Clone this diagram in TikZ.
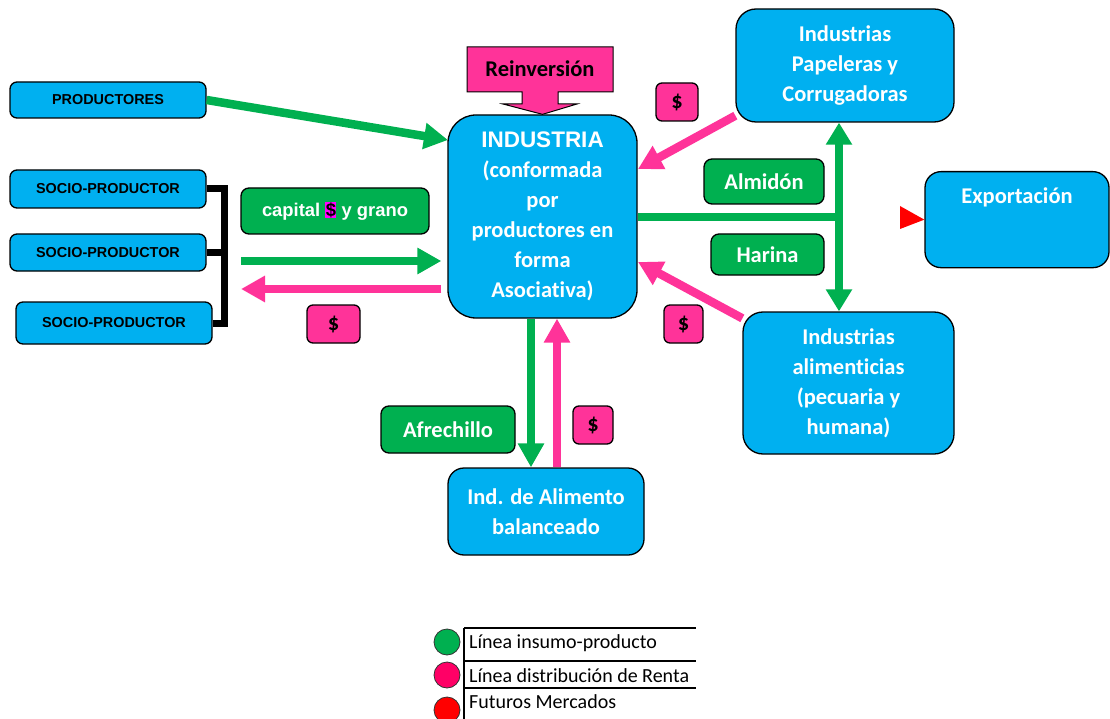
\documentclass[tikz,border=0pt]{standalone}
\usepackage{fontspec}
\setmainfont{Carlito}[Ligatures=NoCommon]
\newfontfamily\arial{Liberation Sans}
\usetikzlibrary{arrows.meta}
\definecolor{cyanb}{HTML}{00B0F0}
\definecolor{greenb}{HTML}{00B050}
\definecolor{pinkb}{HTML}{FF3399}
\definecolor{legpink}{HTML}{FF0066}
\definecolor{legred}{HTML}{FF0000}
\definecolor{magb}{HTML}{FF00FF}
\tikzset{
  base/.style={draw=black, line width=1.3pt, align=center, inner sep=0pt, anchor=center},
  sz/.style 2 args={minimum width=#1pt, minimum height=#2pt},
  cbox/.style={base, fill=cyanb, rounded corners=8pt, text=white, font=\fontsize{22.5}{30}\selectfont\bfseries},
  abox/.style={base, fill=cyanb, rounded corners=7pt, text=black, font=\arial\fontsize{14.4}{16}\selectfont\bfseries},
  gbox/.style={base, fill=greenb, rounded corners=8pt, text=white, font=\fontsize{22.5}{24}\selectfont\bfseries},
  pbox/.style={base, fill=pinkb, rounded corners=6pt, text=black, font=\fontsize{22.5}{24}\selectfont\bfseries},
  garrow/.style={draw=greenb, line width=8.5pt, -{Triangle[length=24pt,width=25pt]}},
  parrow/.style={draw=pinkb, line width=8.5pt, -{Triangle[length=24pt,width=25pt]}},
  gdouble/.style={draw=greenb, line width=8.5pt, {Triangle[length=22pt,width=25pt]}-{Triangle[length=22pt,width=25pt]}},
  legtext/.style={anchor=west, inner sep=0pt, font=\fontsize{20}{22}\selectfont},
  legdot/.style={circle, draw=black!80, line width=0.8pt, minimum size=26pt, inner sep=0pt},
}
\begin{document}
\begin{tikzpicture}[x=1pt, y=-1pt]
\useasboundingbox (0,0) rectangle (1110,719);

% left side
\node[abox, sz={196}{36}] (prod) at (108,100) {PRODUCTORES};
\node[abox, sz={196}{38}] (s1) at (108,189) {SOCIO-PRODUCTOR};
\node[abox, sz={196}{37}] (s2) at (108,252.5) {SOCIO-PRODUCTOR};
\node[abox, sz={196}{42}] (s3) at (114,323) {SOCIO-PRODUCTOR};
\coordinate (bk) at (224,0);
\draw[line width=7pt, line join=miter] (s1.east) -| (s3.east -| bk) -- (s3.east);
\draw[line width=7pt] (s2.east) -- (s2.east -| bk);

\node[base, fill=greenb, rounded corners=8pt, text=white, font=\arial\fontsize{18.4}{20}\selectfont\bfseries, sz={188}{46}] (cap) at (335,211)
  {capital {\setlength\fboxsep{0.4pt}\colorbox{magb}{\textcolor{black}{\$}}} y grano};
\node[pbox, sz={53}{38}] (d1) at (333.5,324) {\$};

% industria
\node[cbox, rounded corners=28pt, sz={189}{203}] (ind) at (542.5,216.5)
  {{\arial\fontsize{22.5}{30}\selectfont\bfseries INDUSTRIA}\\(conformada\\por\\productores en\\forma\\Asociativa)};

% reinversion callout
\node[inner sep=0pt, font=\fontsize{22.5}{24}\selectfont\bfseries] (reinv) at (540,69) {\phantom{Reinversión}};
\filldraw[fill=pinkb, draw=black, line width=1pt] (467,47) -- (613,47) -- (613,92) -- (558,92) -- (558,104) -- (577,104) -- (ind.north) -- (503,104) -- (522,104) -- (522,92) -- (467,92) -- cycle;
\node[inner sep=0pt, font=\fontsize{22.5}{24}\selectfont\bfseries] at (reinv) {Reinversión};

% right side
\node[pbox, sz={42}{38}] (d2) at (677,102) {\$};
\node[cbox, rounded corners=20pt, sz={218}{113}] (pap) at (845,65.5) {Industrias\\Papeleras y\\Corrugadoras};
\node[gbox, sz={120}{45}] (alm) at (764,181.5) {Almidón};
\node[gbox, sz={113}{41}] (har) at (767.5,254.5) {Harina};
\node[pbox, sz={39}{38}] (d3) at (683.5,324) {\$};
\node[cbox, rounded corners=20pt, sz={211}{142}] (ali) at (848.5,383) {Industrias\\alimenticias\\(pecuaria y\\humana)};
\node[cbox, rounded corners=16pt, anchor=north, minimum width=184pt, text height=28pt, text depth=60pt, inner ysep=4pt] (exp) at (1017,171) {Exportación};
\fill[legred] (900,206) -- (exp.west) -- (900,229) -- cycle;

% bottom
\node[gbox, sz={134}{47}] (afr) at (448,429.5) {Afrechillo};
\node[pbox, sz={40}{38}] (d4) at (593,425) {\$};
\node[cbox, rounded corners=16pt, sz={196}{87}] (alb) at (546,511.5) {Ind. de Alimento\\balanceado};

% connectors
\coordinate (gl) at (241,261);
\coordinate (pl) at (241,289);
\coordinate (pa) at ([yshift=7pt]pap.south west);
\coordinate (pb) at ([yshift=-7pt]ali.north west);
\draw[garrow] (prod.east) -- (448,140);
\draw[garrow] (gl) -- ([xshift=-6pt]gl -| ind.west);
\draw[parrow] ([xshift=-6pt]pl -| ind.west) -- (pl);
\draw[parrow] (pa) -- (638,169);
\draw[parrow] (pb) -- (638,262);
\coordinate (vx) at (839,0);
\draw[greenb, line width=8pt] (ind.east |- 0,217) -- (vx |- 0,217);
\draw[gdouble] (pap.south -| vx) -- (ali.north -| vx);
\draw[garrow] (531,0 |- ind.south) -- (531,0 |- alb.north);
\draw[parrow] (557,0 |- alb.north) -- (557,0 |- ind.south);

% legend
\node[legdot, fill=greenb] (c1) at (447,642) {};
\node[legdot, fill=legpink] (c2) at (447,675) {};
\node[legdot, fill=legred] (c3) at (447,710) {};
\draw[line width=1.2pt] (464,628) -- (464,719);
\draw[line width=1.2pt] (464,628) -- (696,628);
\draw[line width=1.2pt] (464,661) -- (696,661);
\draw[line width=1.2pt] (464,688) -- (696,688);
\node[legtext] (t1) at (469,643) {Línea insumo-producto};
\node[legtext] (t2) at (469,676) {Línea distribución de Renta};
\node[legtext] (t3) at (469,702) {Futuros Mercados};
\end{tikzpicture}
\end{document}
